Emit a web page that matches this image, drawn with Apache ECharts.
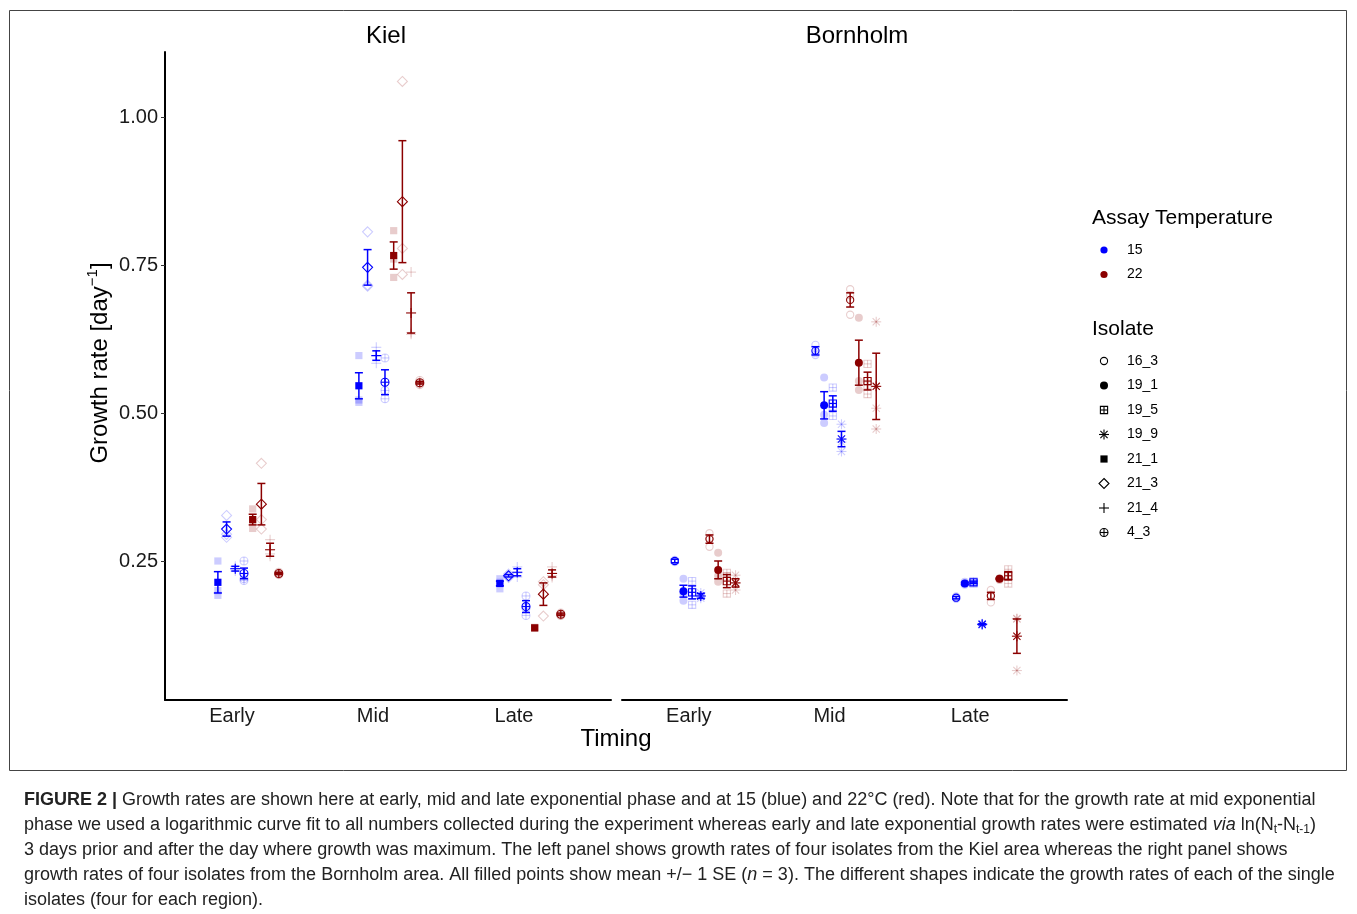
<!DOCTYPE html>
<html>
<head>
<meta charset="utf-8">
<script src="https://cdn.jsdelivr.net/npm/echarts@6/dist/echarts.min.js"></script>
<style>
  html, body { margin: 0; padding: 0; background: #fff; }
  #main { width: 1357px; height: 914px; }
</style>
</head>
<body>
<div id="main"></div>
<script>
var timings = ['Early', 'Mid', 'Late'];
var kielIsolates = ['21_1', '21_3', '21_4', '4_3'];
var bornholmIsolates = ['16_3', '19_1', '19_5', '19_9'];
var legendIsolates = ['16_3', '19_1', '19_5', '19_9', '21_1', '21_3', '21_4', '4_3'];
var legendTemps = ['15', '22'];
var yTicks = [0.25, 0.5, 0.75, 1.0];

// rows = timing (Early, Mid, Late), columns = isolate
var kielMean15 = [[0.214, 0.304, 0.237, 0.229], [0.546, 0.746, 0.597, 0.552], [0.212, 0.225, 0.231, 0.173]];
var kielSE15   = [[0.018, 0.012, 0.004, 0.009], [0.022, 0.030, 0.008, 0.021], [0.004, 0.002, 0.006, 0.010]];
var kielMean22 = [[0.320, 0.346, 0.269, 0.229], [0.766, 0.857, 0.669, 0.551], [0.137, 0.194, 0.229, 0.160]];
var kielSE22   = [[0.009, 0.035, 0.011, 0.002], [0.023, 0.103, 0.034, 0.002], [0.000, 0.019, 0.006, 0.002]];
var kielReps15 = [
  [[0.250, 0.200, 0.192], [0.327, 0.295, 0.290], [0.241, 0.237, 0.233], [0.250, 0.220, 0.217]],
  [[0.597, 0.522, 0.518], [0.806, 0.716, 0.714], [0.611, 0.596, 0.584], [0.593, 0.538, 0.524]],
  [[0.220, 0.214, 0.203], [0.228, 0.224, 0.222], [0.240, 0.230, 0.223], [0.191, 0.170, 0.158]]
];
var kielReps22 = [
  [[0.338, 0.318, 0.305], [0.415, 0.320, 0.304], [0.286, 0.262, 0.258], [0.231, 0.228, 0.227]],
  [[0.808, 0.760, 0.729], [1.060, 0.778, 0.734], [0.738, 0.636, 0.633], [0.555, 0.550, 0.548]],
  [[0.138, 0.137, 0.137], [0.215, 0.210, 0.157], [0.240, 0.225, 0.222], [0.162, 0.159, 0.158]]
];

var bornMean15 = [[0.250, 0.199, 0.197, 0.191], [0.605, 0.513, 0.516, 0.456], [0.188, 0.212, 0.214, 0.143]];
var bornSE15   = [[0.003, 0.010, 0.011, 0.004], [0.007, 0.023, 0.013, 0.013], [0.002, 0.002, 0.002, 0.001]];
var bornMean22 = [[0.287, 0.235, 0.216, 0.213], [0.691, 0.585, 0.554, 0.545], [0.191, 0.220, 0.225, 0.123]];
var bornSE22   = [[0.007, 0.015, 0.011, 0.007], [0.012, 0.038, 0.015, 0.056], [0.006, 0.001, 0.007, 0.029]];
var bornReps15 = [
  [[0.252, 0.250, 0.248], [0.220, 0.195, 0.183], [0.216, 0.198, 0.176], [0.196, 0.190, 0.187]],
  [[0.615, 0.601, 0.598], [0.560, 0.497, 0.483], [0.543, 0.511, 0.495], [0.481, 0.451, 0.435]],
  [[0.190, 0.188, 0.186], [0.215, 0.212, 0.210], [0.216, 0.214, 0.212], [0.144, 0.143, 0.142]]
];
var bornReps22 = [
  [[0.297, 0.289, 0.274], [0.264, 0.225, 0.215], [0.230, 0.224, 0.195], [0.226, 0.213, 0.201]],
  [[0.709, 0.699, 0.666], [0.661, 0.554, 0.539], [0.583, 0.547, 0.532], [0.654, 0.508, 0.473]],
  [[0.201, 0.193, 0.180], [0.221, 0.220, 0.218], [0.236, 0.226, 0.212], [0.153, 0.152, 0.065]]
];

var FONT = "'Liberation Sans', Arial, Helvetica, sans-serif";
var BLUE = '#0000ff', RED = '#8b0000';
var isolateShape = {
  '16_3': 'circleOpen', '19_1': 'circle', '19_5': 'squarePlus', '19_9': 'asterisk',
  '21_1': 'square', '21_3': 'diamond', '21_4': 'plus', '4_3': 'circlePlus'
};

// dodge position of group k (0..7) around a timing
function dodge(k) { return -0.1 + k * 0.0617; }

function shapeEls(shape, cx, cy, color, opacity) {
  var lw = 1.1;
  function line(x1, y1, x2, y2) {
    return { type: 'line', shape: { x1: x1, y1: y1, x2: x2, y2: y2 }, style: { stroke: color, lineWidth: lw, opacity: opacity } };
  }
  var open = { fill: 'none', stroke: color, lineWidth: lw, opacity: opacity };
  switch (shape) {
    case 'circleOpen':
      return [{ type: 'circle', shape: { cx: cx, cy: cy, r: 3.6 }, style: open }];
    case 'circle':
      return [{ type: 'circle', shape: { cx: cx, cy: cy, r: 4 }, style: { fill: color, opacity: opacity } }];
    case 'square':
      return [{ type: 'rect', shape: { x: cx - 3.6, y: cy - 3.6, width: 7.2, height: 7.2 }, style: { fill: color, opacity: opacity } }];
    case 'squarePlus':
      return [{ type: 'rect', shape: { x: cx - 3.6, y: cy - 3.6, width: 7.2, height: 7.2 }, style: open },
        line(cx - 3.6, cy, cx + 3.6, cy), line(cx, cy - 3.6, cx, cy + 3.6)];
    case 'diamond':
      return [{ type: 'polygon', shape: { points: [[cx, cy - 5], [cx + 5, cy], [cx, cy + 5], [cx - 5, cy]] }, style: open }];
    case 'plus':
      return [line(cx - 5, cy, cx + 5, cy), line(cx, cy - 5, cx, cy + 5)];
    case 'asterisk':
      return [line(cx - 5, cy, cx + 5, cy), line(cx, cy - 5, cx, cy + 5),
        line(cx - 3.6, cy - 3.6, cx + 3.6, cy + 3.6), line(cx - 3.6, cy + 3.6, cx + 3.6, cy - 3.6)];
    case 'circlePlus':
      return [{ type: 'circle', shape: { cx: cx, cy: cy, r: 4 }, style: open },
        line(cx - 4, cy, cx + 4, cy), line(cx, cy - 4, cx, cy + 4)];
  }
  return [];
}

function repSeries(gridIdx, reps, isolates, tempIdx, color) {
  var data = [];
  for (var t = 0; t < 3; t++) {
    for (var i = 0; i < 4; i++) {
      reps[t][i].forEach(function (v) { data.push([t + 1 + dodge(tempIdx * 4 + i), v, i]); });
    }
  }
  return {
    type: 'custom', xAxisIndex: gridIdx, yAxisIndex: gridIdx, data: data, z: 2, clip: false,
    encode: { x: 0, y: 1 },
    renderItem: function (params, api) {
      var p = api.coord([api.value(0), api.value(1)]);
      return { type: 'group', children: shapeEls(isolateShape[isolates[api.value(2)]], p[0], p[1], color, 0.2) };
    }
  };
}

function meanSeries(gridIdx, means, ses, isolates, tempIdx, color) {
  var data = [];
  for (var t = 0; t < 3; t++) {
    for (var i = 0; i < 4; i++) {
      data.push([t + 1 + dodge(tempIdx * 4 + i), means[t][i], ses[t][i], i]);
    }
  }
  return {
    type: 'custom', xAxisIndex: gridIdx, yAxisIndex: gridIdx, data: data, z: 3, clip: false,
    encode: { x: 0, y: 1 },
    renderItem: function (params, api) {
      var x = api.value(0), m = api.value(1), se = api.value(2);
      var p = api.coord([x, m]);
      var children = [];
      if (se > 0) {
        var hi = api.coord([x, m + se]), lo = api.coord([x, m - se]);
        var st = { stroke: color, lineWidth: 1.5 };
        children.push({ type: 'line', shape: { x1: p[0], y1: hi[1], x2: p[0], y2: lo[1] }, style: st });
        children.push({ type: 'line', shape: { x1: p[0] - 4, y1: hi[1], x2: p[0] + 4, y2: hi[1] }, style: st });
        children.push({ type: 'line', shape: { x1: p[0] - 4, y1: lo[1], x2: p[0] + 4, y2: lo[1] }, style: st });
      }
      children = children.concat(shapeEls(isolateShape[isolates[api.value(3)]], p[0], p[1], color, 1));
      return { type: 'group', children: children };
    }
  };
}

function xAxisFor(gridIdx) {
  return {
    type: 'value', gridIndex: gridIdx, min: 0.525, max: 3.688,
    axisLine: { show: true, lineStyle: { color: '#000', width: 2 } },
    axisTick: { show: false },
    splitLine: { show: false },
    axisLabel: {
      customValues: [1, 2, 3], margin: 6,
      formatter: function (v) { return timings[Math.round(v) - 1]; },
      fontFamily: FONT, fontSize: 20, color: '#1a1a1a'
    }
  };
}

function yAxisFor(gridIdx, visible) {
  return {
    type: 'value', gridIndex: gridIdx, min: 0.0152, max: 1.1098,
    axisLine: { show: visible, lineStyle: { color: '#000', width: 2 } },
    axisTick: { show: visible, customValues: yTicks, length: 4, lineStyle: { color: '#333', width: 1 } },
    splitLine: { show: false },
    axisLabel: {
      show: visible, customValues: yTicks, margin: 7,
      formatter: function (v) { return v.toFixed(2); },
      fontFamily: FONT, fontSize: 20, color: '#1a1a1a'
    }
  };
}

var graphics = [];
graphics.push({ type: 'rect', shape: { x: 9.5, y: 10.5, width: 1337, height: 760 }, style: { fill: 'none', stroke: '#444', lineWidth: 1 } });
function txt(x, y, text, size, align, extra) {
  var o = { type: 'text', x: x, y: y, style: { text: text, fontFamily: FONT, fontSize: size, fill: '#000', align: align || 'left', verticalAlign: 'middle' } };
  if (extra) { for (var k in extra) o[k] = extra[k]; }
  return o;
}
graphics.push(txt(386, 36, 'Kiel', 24, 'center'));
graphics.push(txt(857, 36, 'Bornholm', 24, 'center'));
graphics.push(txt(616, 739, 'Timing', 24, 'center'));
graphics.push({
  type: 'text', x: 100, y: 363, rotation: Math.PI / 2,
  style: {
    text: '{a|Growth rate [day}{s|\u22121}{a|]}', align: 'center', verticalAlign: 'middle',
    rich: {
      a: { fontFamily: FONT, fontSize: 24, fill: '#000', lineHeight: 30 },
      s: { fontFamily: FONT, fontSize: 15, fill: '#000', lineHeight: 18, verticalAlign: 'top' }
    }
  }
});

// legends
graphics.push(txt(1092, 218, 'Assay Temperature', 21, 'left'));
[BLUE, RED].forEach(function (c, i) {
  var y = 250 + i * 24.5;
  graphics.push({ type: 'circle', shape: { cx: 1104, cy: y, r: 3.6 }, style: { fill: c } });
  graphics.push(txt(1127, y, legendTemps[i], 14, 'left'));
});
graphics.push(txt(1092, 329, 'Isolate', 21, 'left'));
legendIsolates.forEach(function (name, i) {
  var y = 361 + i * 24.5;
  shapeEls(isolateShape[name], 1104, y, '#000', 1).forEach(function (el) { graphics.push(el); });
  graphics.push(txt(1127, y, name, 14, 'left'));
});

// caption
var capRich = {
  b: { fontFamily: FONT, fontSize: 18, fontWeight: 'bold', fill: '#222', lineHeight: 22 },
  i: { fontFamily: FONT, fontSize: 18, fontStyle: 'italic', fill: '#222', lineHeight: 22 },
  s: { fontFamily: FONT, fontSize: 12, fill: '#222', lineHeight: 16, verticalAlign: 'bottom' }
};
var capLines = [
  '{b|FIGURE 2 |} Growth rates are shown here at early, mid and late exponential phase and at 15 (blue) and 22\u00b0C (red). Note that for the growth rate at mid exponential',
  'phase we used a logarithmic curve fit to all numbers collected during the experiment whereas early and late exponential growth rates were estimated {i|via} ln(N{s|t}-N{s|t-1})',
  '3 days prior and after the day where growth was maximum. The left panel shows growth rates of four isolates from the Kiel area whereas the right panel shows',
  'growth rates of four isolates from the Bornholm area. All filled points show mean +/\u2212 1 SE ({i|n} = 3). The different shapes indicate the growth rates of each of the single',
  'isolates (four for each region).'
];
capLines.forEach(function (line, i) {
  graphics.push({
    type: 'text', x: 24, y: 800 + i * 25,
    style: { text: line, fontFamily: FONT, fontSize: 18, fill: '#222', lineHeight: 22, align: 'left', verticalAlign: 'middle', rich: capRich }
  });
});

var option = {
  animation: false,
  backgroundColor: '#fff',
  grid: [
    { left: 165, top: 52, width: 446, height: 648, outerBoundsMode: 'none' },
    { left: 622, top: 52, width: 445, height: 648, outerBoundsMode: 'none' }
  ],
  xAxis: [xAxisFor(0), xAxisFor(1)],
  yAxis: [yAxisFor(0, true), yAxisFor(1, false)],
  series: [
    repSeries(0, kielReps15, kielIsolates, 0, BLUE),
    repSeries(0, kielReps22, kielIsolates, 1, RED),
    repSeries(1, bornReps15, bornholmIsolates, 0, BLUE),
    repSeries(1, bornReps22, bornholmIsolates, 1, RED),
    meanSeries(0, kielMean15, kielSE15, kielIsolates, 0, BLUE),
    meanSeries(0, kielMean22, kielSE22, kielIsolates, 1, RED),
    meanSeries(1, bornMean15, bornSE15, bornholmIsolates, 0, BLUE),
    meanSeries(1, bornMean22, bornSE22, bornholmIsolates, 1, RED)
  ],
  graphic: graphics
};

var chart = echarts.init(document.getElementById('main'));
chart.setOption(option);
</script>
</body>
</html>
